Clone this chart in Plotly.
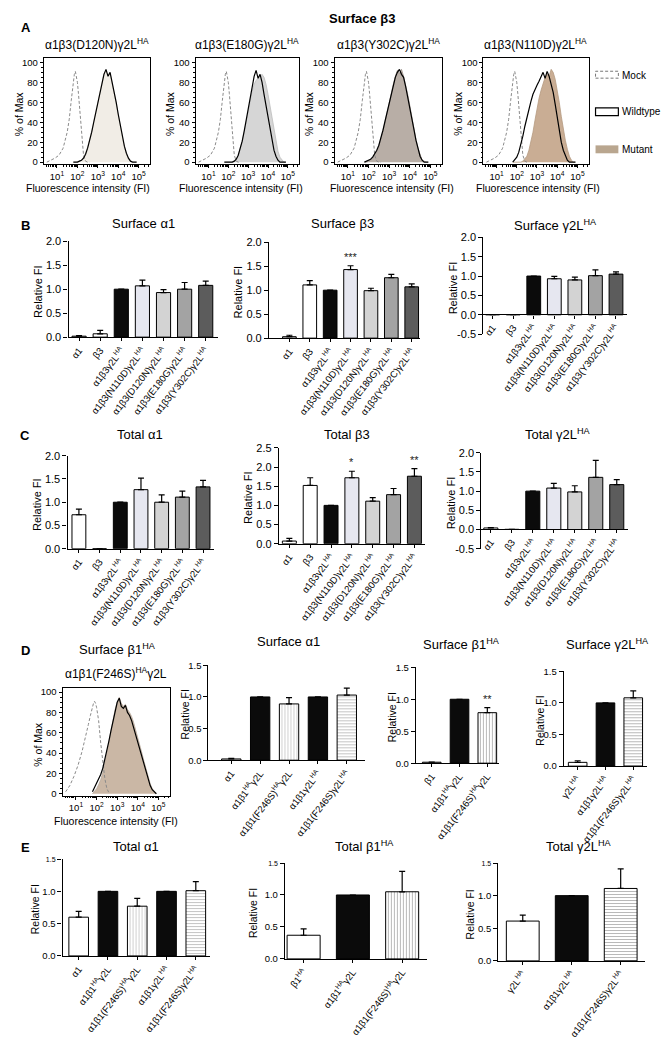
import math
import plotly.graph_objects as go

W, H = 667, 1042
FONT = "Arial, 'Liberation Sans', sans-serif"

# ---------------- flow cytometry histograms (log10 FI vs % of Max) ----------------
cell_logfi = [1.8, 1.9, 2.0, 2.1, 2.2, 2.3, 2.4, 2.5, 2.6, 2.7, 2.8, 2.9, 3.0, 3.1, 3.2, 3.3,
              3.4, 3.5, 3.6, 3.7, 3.8, 3.9, 4.0, 4.1, 4.2, 4.3, 4.4, 4.5, 4.6, 4.7, 4.8, 4.9]
mock_logfi = [0.5, 0.7, 0.9, 1.1, 1.3, 1.5, 1.6, 1.7, 1.8, 1.85, 1.9, 1.95, 2.0, 2.05, 2.1,
              2.2, 2.3, 2.4, 2.5, 2.6]
mock_pct_a = [0, 2, 4, 7, 14, 30, 43, 62, 82, 88, 91, 87, 80, 69, 57, 28, 7, 1, 0, 0]
mock_pct_d = [2, 8, 17, 28, 42, 58, 68, 77, 86, 89, 91, 89, 85, 80, 72, 50, 33, 15, 5, 1]

wt_d120n = [0, 0, 0, 1, 2, 4, 8, 14, 21, 30, 40, 50, 60, 70, 80, 88, 93, 86, 90, 81, 71, 60,
            48, 37, 26, 16, 9, 4, 1, 0, 0, 0]
mut_d120n = [0, 0, 0, 1, 2, 5, 9, 15, 22, 31, 41, 51, 61, 71, 81, 89, 91, 88, 89, 80, 70, 59,
             47, 36, 25, 15, 8, 3, 1, 0, 0, 0]
wt_e180g = [0, 0, 0, 0, 0, 1, 3, 7, 13, 21, 31, 42, 54, 66, 77, 86, 92, 84, 88, 80, 68, 56,
            44, 32, 21, 12, 6, 2, 0, 0, 0, 0]
mut_e180g = [0, 0, 0, 0, 0, 1, 3, 7, 13, 21, 30, 40, 51, 62, 71, 78, 82, 84, 86, 88, 85, 78,
             68, 56, 44, 32, 20, 11, 5, 2, 0, 0]
wt_y302c = [0, 1, 2, 3, 5, 8, 12, 17, 24, 32, 41, 50, 59, 68, 77, 85, 90, 93, 88, 85, 76, 66,
            55, 44, 33, 22, 13, 6, 2, 0, 0, 0]
mut_y302c = [0, 0, 1, 2, 4, 7, 11, 16, 23, 31, 40, 50, 60, 69, 78, 86, 92, 89, 93, 86, 78, 68,
             57, 45, 34, 23, 14, 7, 2, 1, 0, 0]
wt_n110d = [0, 2, 5, 10, 17, 26, 36, 45, 53, 61, 68, 73, 77, 81, 85, 90, 84, 91, 86, 79, 70,
            58, 45, 32, 20, 12, 6, 2, 0, 0, 0, 0]
mut_n110d = [0, 0, 0, 0, 0, 1, 3, 6, 12, 20, 30, 42, 54, 64, 72, 79, 85, 88, 86, 93, 90, 83,
             73, 60, 46, 33, 22, 13, 6, 2, 0, 0]
wt_f246s = [2, 6, 10, 14, 19, 25, 33, 42, 52, 62, 72, 82, 90, 94, 86, 84, 87, 80, 77, 72, 65,
            58, 51, 44, 37, 29, 22, 14, 8, 4, 2, 0]
mut_f246s = [0, 2, 5, 9, 14, 21, 30, 40, 51, 62, 73, 83, 90, 95, 89, 86, 88, 83, 80, 76, 70,
             63, 56, 48, 40, 32, 24, 16, 10, 5, 2, 0]

hist_tick_vals = [1, 2, 3, 4, 5]
hist_tick_text = ["10<sup>1</sup>", "10<sup>2</sup>", "10<sup>3</sup>", "10<sup>4</sup>", "10<sup>5</sup>"]
pct_ticks = [0, 20, 40, 60, 80, 100]

# ---------------- bar chart data ----------------
bc_cats = ["α1", "β3", "α1β3γ2L<sup>HA</sup>", "α1β3(N110D)γ2L<sup>HA</sup>",
           "α1β3(D120N)γ2L<sup>HA</sup>", "α1β3(E180G)γ2L<sup>HA</sup>",
           "α1β3(Y302C)γ2L<sup>HA</sup>"]
surf_a1_val = [0.02, 0.07, 1.0, 1.07, 0.93, 1.00, 1.08]
surf_a1_err = [0.01, 0.07, None, 0.12, 0.06, 0.14, 0.09]
surf_b3_val = [0.03, 1.11, 1.0, 1.43, 0.99, 1.26, 1.07]
surf_b3_err = [0.03, 0.09, None, 0.08, 0.05, 0.07, 0.06]
surf_b3_sig = ["", "", "", "***", "", "", ""]
surf_g2_val = [0.005, 0.005, 1.0, 0.93, 0.90, 1.01, 1.05]
surf_g2_err = [None, None, None, 0.06, 0.07, 0.15, 0.06]
tot_a1_val = [0.73, 0.0, 1.0, 1.27, 1.00, 1.11, 1.33]
tot_a1_err = [0.12, None, None, 0.25, 0.16, 0.13, 0.14]
tot_b3_val = [0.07, 1.52, 1.0, 1.72, 1.11, 1.28, 1.76]
tot_b3_err = [0.07, 0.20, None, 0.17, 0.09, 0.16, 0.20]
tot_b3_sig = ["", "", "", "*", "", "", "**"]
tot_g2_val = [0.04, 0.005, 1.0, 1.08, 0.98, 1.36, 1.17]
tot_g2_err = [0.01, None, None, 0.12, 0.16, 0.44, 0.13]

de_cats5 = ["α1", "α1β1<sup>HA</sup>γ2L", "α1β1(F246S)<sup>HA</sup>γ2L", "α1β1γ2L<sup>HA</sup>",
            "α1β1(F246S)γ2L<sup>HA</sup>"]
d_b1_cats = ["β1", "α1β1<sup>HA</sup>γ2L", "α1β1(F246S)<sup>HA</sup>γ2L"]
e_b1_cats = ["β1<sup>HA</sup>", "α1β1<sup>HA</sup>γ2L", "α1β1(F246S)<sup>HA</sup>γ2L"]
g2_cats3 = ["γ2L<sup>HA</sup>", "α1β1γ2L<sup>HA</sup>", "α1β1(F246S)γ2L<sup>HA</sup>"]

d_surf_a1_val = [0.02, 1.0, 0.89, 1.0, 1.03]
d_surf_a1_err = [0.01, None, 0.10, None, 0.11]
d_surf_b1_val = [0.015, 1.0, 0.79]
d_surf_b1_err = [None, None, 0.08]
d_surf_b1_sig = ["", "", "**"]
d_surf_g2_val = [0.06, 1.0, 1.08]
d_surf_g2_err = [0.025, None, 0.11]
e_tot_a1_val = [0.60, 1.0, 0.77, 1.0, 1.01]
e_tot_a1_err = [0.09, None, 0.12, None, 0.14]
e_tot_b1_val = [0.37, 1.0, 1.05]
e_tot_b1_err = [0.10, None, 0.32]
e_tot_g2_val = [0.61, 1.0, 1.11]
e_tot_g2_err = [0.09, None, 0.30]

bc_colors = ["#ffffff", "#ffffff", "#0b0b0b", "#e6e7f0", "#d3d3d3", "#a3a3a3", "#5c5c5c"]
de5_colors = ["#ffffff", "#0b0b0b", "#d0d0d0", "#0b0b0b", "#c4c4c4"]
de5_shapes = ["", "", "|", "", "-"]
b1_colors = ["#ffffff", "#0b0b0b", "#b8b8b8"]
b1_shapes = ["", "", "|"]
g2_colors = ["#ffffff", "#0b0b0b", "#b8b8b8"]
g2_shapes = ["", "", "-"]

# ---------------- helpers ----------------
fig = go.Figure()
layout = {}
annotations = []
shapes = []
counter = [0]


def fx(px):
    return px / W


def fy(py):
    return 1 - py / H


def new_axes():
    counter[0] += 1
    n = counter[0]
    s = "" if n == 1 else str(n)
    return n, "x" + s, "y" + s, "xaxis" + s, "yaxis" + s


def ann(text, x, y, size=11, bold=False, angle=0, xanchor="center", yanchor="middle", color="black"):
    if bold:
        text = "<b>" + text + "</b>"
    annotations.append(dict(text=text, x=fx(x), y=fy(y), xref="paper", yref="paper",
                            showarrow=False, textangle=angle, xanchor=xanchor, yanchor=yanchor,
                            font=dict(size=size, family=FONT, color=color)))


minor_log = [math.log10(k) + d for d in range(0, 6) for k in range(2, 10)]
minor_log = [v for v in minor_log if 0.35 < v < 5.55]


def add_hist(box, wt, mut, mock_y, fill, edge, title=None, title_y=38, xt_y=184, xt_cx=None):
    l, r, t, b = box
    n, xr, yr, xk, yk = new_axes()
    fig.add_trace(go.Scatter(x=cell_logfi, y=mut, mode="lines", fill="tozeroy", fillcolor=fill,
                             line=dict(color=edge, width=0.8), xaxis=xr, yaxis=yr, showlegend=False,
                             hoverinfo="skip"))
    fig.add_trace(go.Scatter(x=mock_logfi, y=mock_y, mode="lines",
                             line=dict(color="#8a8a8a", width=1, dash="3px,2px"),
                             xaxis=xr, yaxis=yr, showlegend=False, hoverinfo="skip"))
    fig.add_trace(go.Scatter(x=cell_logfi, y=wt, mode="lines", line=dict(color="black", width=1.2),
                             xaxis=xr, yaxis=yr, showlegend=False, hoverinfo="skip"))
    layout[xk] = dict(domain=[fx(l), fx(r)], anchor=yr, range=[0.35, 5.55], tickvals=hist_tick_vals,
                      ticktext=hist_tick_text, ticks="outside", ticklen=3, tickcolor="black",
                      showline=True, mirror=True, linecolor="black", linewidth=1, showgrid=False,
                      zeroline=False, tickfont=dict(size=9.5, family=FONT),
                      minor=dict(tickvals=minor_log, ticks="outside", ticklen=1.5, tickcolor="black"))
    layout[yk] = dict(domain=[fy(b), fy(t)], anchor=xr, range=[-2, 104], tickvals=pct_ticks,
                      ticktext=[str(v) for v in pct_ticks],
                      ticks="outside", ticklen=3, tickcolor="black", showline=True, mirror=True,
                      linecolor="black", linewidth=1, showgrid=False, zeroline=False,
                      tickfont=dict(size=9.5, family=FONT),
                      minor=dict(dtick=5, ticks="outside", ticklen=1.5, tickcolor="black"))
    if title:
        ann(title, (l + r) / 2, title_y, size=12)
    ann("% of Max", l - 25, (t + b) / 2 + 2, size=10.5, angle=-90)
    ann("Fluorescence intensity (FI)", xt_cx if xt_cx else (l + r) / 2, xt_y, size=10.5)


def add_bars(box, yrange, cats, vals, errs, colors, xrange, ytick, bargap=0.35, pattern=None,
             sig=None, title=None, title_xy=None, zero_px=None, ylab_off=31, tickangle=-52,
             ticktext=None, catsize=9.5, yfont=11, ylabsize=11):
    l, r, t, b = box
    n, xr, yr, xk, yk = new_axes()
    marker = dict(color=colors, line=dict(color="black", width=1))
    if pattern:
        marker["pattern"] = dict(shape=pattern, fgcolor="#111111", size=3, solidity=0.35,
                                 fillmode="replace")
    fig.add_trace(go.Bar(x=cats, y=vals, marker=marker, xaxis=xr, yaxis=yr, showlegend=False,
                         hoverinfo="skip",
                         error_y=dict(type="data", symmetric=False, array=errs,
                                      arrayminus=[0 if e is not None else None for e in errs],
                                      color="black", thickness=1.2, width=3)))
    xa = dict(domain=[fx(l), fx(r)], type="category", range=xrange, showline=True, linecolor="black",
              linewidth=1.2, ticks="outside", ticklen=3, tickcolor="black", tickangle=tickangle,
              tickfont=dict(size=catsize, family=FONT), showgrid=False, zeroline=False)
    if zero_px is not None:
        xa.update(anchor="free", position=fy(zero_px))
    else:
        xa.update(anchor=yr)
    layout[xk] = xa
    if ticktext is None:
        ticktext = ["%.1f" % v for v in ytick]
    ya = dict(domain=[fy(b), fy(t)], anchor=xr, range=yrange, tickvals=ytick, ticktext=ticktext,
              ticks="outside", ticklen=4, tickcolor="black", showline=True, linecolor="black",
              linewidth=1.2, showgrid=False, zeroline=False, tickfont=dict(size=yfont, family=FONT))
    layout[yk] = ya
    layout["bargap"] = bargap
    if sig:
        for c, v, e, s in zip(cats, vals, errs, sig):
            if s:
                annotations.append(dict(text=s, x=c, y=v + (e or 0), xref=xr, yref=yr,
                                        showarrow=False, yanchor="bottom", yshift=1,
                                        font=dict(size=11, family=FONT, color="#222")))
    if title:
        ann(title, title_xy[0], title_xy[1], size=13)
    ann("Relative FI", l - ylab_off, (t + b) / 2 + 2, size=ylabsize, angle=-90)
    return n


# ---------------- Panel A ----------------
ann("A", 21, 22, size=13, bold=True)
ann("Surface β3", 360, 13, size=13, bold=True)
add_hist((39, 146, 53, 160), wt_d120n, mut_d120n, mock_pct_a, "#f1ede6", "#d3cbbf",
         title="α1β3(D120N)γ2L<sup>HA</sup>", xt_cx=84)
add_hist((192, 296, 53, 160), wt_e180g, mut_e180g, mock_pct_a, "#d6d6d6", "#bdbdbd",
         title="α1β3(E180G)γ2L<sup>HA</sup>", xt_cx=238)
add_hist((332, 440, 53, 160), wt_y302c, mut_y302c, mock_pct_a, "#b8aea6", "#9d928a",
         title="α1β3(Y302C)γ2L<sup>HA</sup>", xt_cx=390)
add_hist((482, 588, 53, 160), wt_n110d, mut_n110d, mock_pct_a, "#c9ad94", "#b59a82",
         title="α1β3(N110D)γ2L<sup>HA</sup>", xt_cx=537)

# legend
shapes.append(dict(type="rect", xref="paper", yref="paper", x0=fx(595), x1=fx(618), y0=fy(73),
                   y1=fy(66), line=dict(color="#777", width=1, dash="3px,2px")))
shapes.append(dict(type="rect", xref="paper", yref="paper", x0=fx(595), x1=fx(618), y0=fy(111),
                   y1=fy(103), line=dict(color="black", width=1.2)))
shapes.append(dict(type="rect", xref="paper", yref="paper", x0=fx(595), x1=fx(618), y0=fy(149),
                   y1=fy(141), line=dict(width=0), fillcolor="#b9a68f"))
ann("Mock", 620, 70, size=10, xanchor="left")
ann("Wildtype", 620, 107, size=10, xanchor="left")
ann("Mutant", 620, 145, size=10, xanchor="left")

# ---------------- Panel B ----------------
ann("B", 21, 222, size=13, bold=True)
ytk2 = [0, 0.5, 1.0, 1.5, 2.0]
ytkm = [-0.5, 0, 0.5, 1.0, 1.5, 2.0]
add_bars((64, 215, 238, 335), [0, 2], bc_cats, surf_a1_val, surf_a1_err, bc_colors,
         [-0.5, 6.6], ytk2, title="Surface α1", title_xy=(140, 220))
add_bars((266, 418, 239, 336), [0, 2], bc_cats, surf_b3_val, surf_b3_err, bc_colors,
         [-1.0, 6.4], ytk2, sig=surf_b3_sig, title="Surface β3", title_xy=(340, 220))
add_bars((482, 627, 234, 332), [-0.5, 2], bc_cats, surf_g2_val, surf_g2_err, bc_colors,
         [-0.45, 6.55], ytkm, title="Surface γ2L<sup>HA</sup>", title_xy=(555, 222), zero_px=312,
         ticktext=["-0.5", "0.0", "0.5", "1.0", "1.5", "2.0"])

# ---------------- Panel C ----------------
ann("C", 20, 434, size=13, bold=True)
add_bars((63, 211, 455, 549), [0, 2], bc_cats, tot_a1_val, tot_a1_err, bc_colors,
         [-0.55, 6.55], ytk2, title="Total α1", title_xy=(136, 433))
add_bars((276, 423, 447, 544), [0, 2.5], bc_cats, tot_b3_val, tot_b3_err, bc_colors,
         [-0.5, 6.5], [0, 0.5, 1.0, 1.5, 2.0, 2.5], sig=tot_b3_sig, title="Total β3",
         title_xy=(345, 433))
add_bars((480, 628, 452, 549), [-0.5, 2], bc_cats, tot_g2_val, tot_g2_err, bc_colors,
         [-0.45, 6.55], ytkm, title="Total γ2L<sup>HA</sup>", title_xy=(557, 433), zero_px=529,
         ticktext=["-0.5", "0.0", "0.5", "1.0", "1.5", "2.0"])

# ---------------- Panel D ----------------
ann("D", 21, 652, size=13, bold=True)
ann("Surface β1<sup>HA</sup>", 113, 650, size=13)
add_hist((58, 166, 690, 799), wt_f246s, mut_f246s, mock_pct_d, "#cab7a5", "#b9ab9e",
         title="α1β1(F246S)<sup>HA</sup>γ2L", title_y=675, xt_y=825)
ytk15 = [0, 0.5, 1.0, 1.5]
add_bars((205, 363, 667, 763), [0, 1.5], de_cats5, d_surf_a1_val, d_surf_a1_err, de5_colors,
         [-0.79, 4.64], ytk15, bargap=0.31, pattern=de5_shapes, title="Surface α1",
         title_xy=(286, 643), ylab_off=24, yfont=9.5, ylabsize=10.5)
add_bars((414, 498, 669, 766), [0, 1.5], d_b1_cats, d_surf_b1_val, d_surf_b1_err, b1_colors,
         [-0.57, 2.43], ytk15, bargap=0.32, pattern=b1_shapes, sig=d_surf_b1_sig,
         title="Surface β1<sup>HA</sup>", title_xy=(460, 645), ylab_off=24, yfont=9.5,
         ylabsize=10.5)
add_bars((563, 647, 673, 769), [0, 1.5], g2_cats3, d_surf_g2_val, d_surf_g2_err, g2_colors,
         [-0.5, 2.5], ytk15, bargap=0.33, pattern=g2_shapes,
         title="Surface γ2L<sup>HA</sup>", title_xy=(607, 645), ylab_off=24, yfont=9.5,
         ylabsize=10.5)

# ---------------- Panel E ----------------
ann("E", 21, 851, size=13, bold=True)
e_ticktext = ["0.0", "0.5", "1.0", "<span style='font-size:7px'>1.5</span>"]
add_bars((58, 207, 863, 961), [0, 1.5], de_cats5, e_tot_a1_val, e_tot_a1_err, de5_colors,
         [-0.55, 4.5], ytk15, bargap=0.35, pattern=de5_shapes, title="Total α1",
         title_xy=(132, 850), ylab_off=27, ticktext=e_ticktext, yfont=9.5, ylabsize=10.5)
add_bars((282, 425, 867, 964), [0, 1.5], e_b1_cats, e_tot_b1_val, e_tot_b1_err, b1_colors,
         [-0.38, 2.5], ytk15, bargap=0.33, pattern=b1_shapes, title="Total β1<sup>HA</sup>",
         title_xy=(362, 850), ylab_off=32, ticktext=e_ticktext, yfont=9.5, ylabsize=10.5)
add_bars((497, 645, 867, 966), [0, 1.5], g2_cats3, e_tot_g2_val, e_tot_g2_err, g2_colors,
         [-0.5, 2.5], ytk15, bargap=0.33, pattern=g2_shapes, title="Total γ2L<sup>HA</sup>",
         title_xy=(578, 850), ylab_off=29, ticktext=e_ticktext, yfont=9.5, ylabsize=10.5)

layout.update(width=W, height=H, margin=dict(l=0, r=0, t=0, b=0, pad=0), autosize=False,
              plot_bgcolor="white", paper_bgcolor="white", showlegend=False,
              font=dict(family=FONT, color="black", size=10),
              annotations=annotations, shapes=shapes)
fig.update_layout(**layout)

fig.write_html("out.html", config={"displayModeBar": False},
               post_script="document.body.style.margin='0';document.body.style.overflow='hidden';")
